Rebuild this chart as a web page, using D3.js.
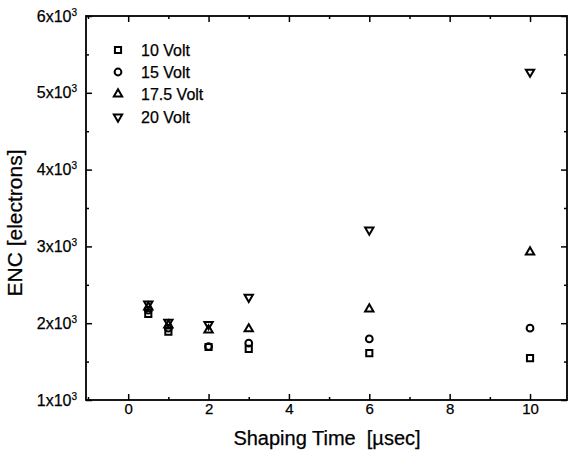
<!DOCTYPE html>
<html>
<head>
<meta charset="utf-8">
<script src="https://cdn.jsdelivr.net/npm/d3@7"></script>
<style>
  body { margin: 0; background: #fff; }
  svg { display: block; font-family: "Liberation Sans", Arial, sans-serif; }
  text { white-space: pre; }
</style>
</head>
<body>
<svg id="chart" width="569" height="459"></svg>
<script>
// Data
const shapingTimes = [0.5, 1, 2, 3, 6, 10];
const enc10V  = [2120, 1890, 1690, 1665, 1610, 1545];
const enc15V  = [2170, 1935, 1695, 1740, 1795, 1935];
const enc175V = [2210, 1975, 1910, 1925, 2185, 2925];
const enc20V  = [2250, 2015, 1985, 2340, 3215, 5270];
const seriesNames = ["10 Volt", "15 Volt", "17.5 Volt", "20 Volt"];
const xMajorTicks = [0, 2, 4, 6, 8, 10];
const xMinorTicks = [-1, 1, 3, 5, 7, 9];
const yMajorTicks = [1000, 2000, 3000, 4000, 5000, 6000];
const yMinorTicks = [1500, 2500, 3500, 4500, 5500];

const series = [enc10V, enc15V, enc175V, enc20V];
const svg = d3.select("#chart");
const L = 86, R = 567, T = 16, B = 400;
const ink = "#000";

const x = d3.scaleLinear().domain([-1.05, 10.92]).range([L, R]);
const y = d3.scaleLinear().domain([1000, 6000]).range([B, T]);

function styleAxis(g) {
  g.select(".domain").remove();
  g.selectAll(".tick line").attr("stroke", ink).attr("stroke-width", 1.5);
  g.selectAll(".tick text").attr("fill", ink).attr("stroke", ink).attr("stroke-width", 0.25);
}

// bottom axis
svg.append("g").attr("transform", `translate(0,${B})`)
  .call(d3.axisBottom(x).tickValues(xMajorTicks).tickSize(-6).tickPadding(3).tickFormat(d3.format("d")))
  .call(styleAxis)
  .call(g => g.selectAll(".tick text").attr("font-size", 15).attr("font-family", "Liberation Sans, Arial, sans-serif"));
svg.append("g").attr("transform", `translate(0,${B})`)
  .call(d3.axisBottom(x).tickValues(xMinorTicks).tickSize(-3).tickFormat(""))
  .call(styleAxis);
// top axis
svg.append("g").attr("transform", `translate(0,${T})`)
  .call(d3.axisTop(x).tickValues(xMajorTicks).tickSize(-6).tickFormat(""))
  .call(styleAxis);
svg.append("g").attr("transform", `translate(0,${T})`)
  .call(d3.axisTop(x).tickValues(xMinorTicks).tickSize(-3).tickFormat(""))
  .call(styleAxis);
// left axis
svg.append("g").attr("transform", `translate(${L},0)`)
  .call(d3.axisLeft(y).tickValues(yMajorTicks).tickSize(-6).tickPadding(9))
  .call(styleAxis)
  .call(g => g.selectAll(".tick text")
    .attr("font-size", 16).attr("font-family", "Liberation Sans, Arial, sans-serif")
    .each(function(d) {
      const t = d3.select(this);
      t.text(null);
      t.append("tspan").text((d / 1000) + "x10");
      t.append("tspan").attr("dy", -6).attr("font-size", 10).text("3");
    }));
svg.append("g").attr("transform", `translate(${L},0)`)
  .call(d3.axisLeft(y).tickValues(yMinorTicks).tickSize(-3).tickFormat(""))
  .call(styleAxis);
// right axis
svg.append("g").attr("transform", `translate(${R},0)`)
  .call(d3.axisRight(y).tickValues(yMajorTicks).tickSize(-6).tickFormat(""))
  .call(styleAxis);
svg.append("g").attr("transform", `translate(${R},0)`)
  .call(d3.axisRight(y).tickValues(yMinorTicks).tickSize(-3).tickFormat(""))
  .call(styleAxis);

// frame
svg.append("rect").attr("x", L).attr("y", T).attr("width", R - L).attr("height", B - T)
  .attr("fill", "none").attr("stroke", ink).attr("stroke-width", 1.8);

// symbols
const symbolDefs = [
  { type: d3.symbolSquare, size: 38, rot: 0 },
  { type: d3.symbolCircle, size: 36, rot: 0 },
  { type: d3.symbolTriangle, size: 30, rot: 0 },
  { type: d3.symbolTriangle, size: 30, rot: 180 }
];

series.forEach((vals, i) => {
  const sd = symbolDefs[i];
  svg.append("g").selectAll("path")
    .data(vals.map((v, j) => ({ t: shapingTimes[j], v })))
    .join("path")
    .attr("d", d3.symbol().type(sd.type).size(sd.size))
    .attr("transform", d => `translate(${x(d.t)},${y(d.v)}) rotate(${sd.rot})`)
    .attr("fill", "none").attr("stroke", ink).attr("stroke-width", 2);
});

// legend
const legendRows = [50, 72, 94, 117];
seriesNames.forEach((name, i) => {
  const sd = symbolDefs[i];
  svg.append("path")
    .attr("d", d3.symbol().type(sd.type).size(sd.size))
    .attr("transform", `translate(118,${legendRows[i]}) rotate(${sd.rot})`)
    .attr("fill", "none").attr("stroke", ink).attr("stroke-width", 2);
  svg.append("text").attr("x", 141).attr("y", legendRows[i]).attr("dy", "0.36em")
    .attr("font-size", 16).attr("fill", ink).attr("stroke", ink).attr("stroke-width", 0.25).text(name);
});

// axis titles
svg.append("text").attr("x", 327).attr("y", 445).attr("text-anchor", "middle")
  .attr("font-size", 20).attr("fill", ink).attr("stroke", ink).attr("stroke-width", 0.25)
  .text("Shaping Time  [µsec]");
svg.append("text").attr("transform", "translate(22,223) rotate(-90)").attr("text-anchor", "middle")
  .attr("font-size", 21).attr("fill", ink).attr("stroke", ink).attr("stroke-width", 0.25)
  .text("ENC [electrons]");
</script>
</body>
</html>
